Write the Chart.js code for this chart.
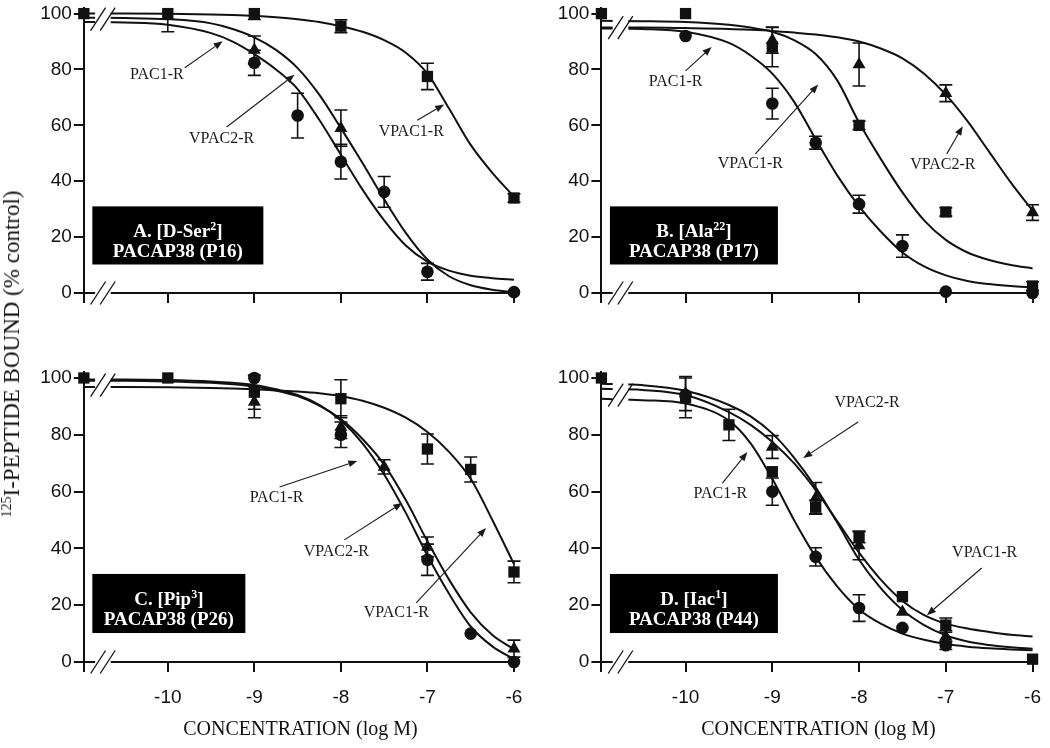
<!DOCTYPE html>
<html><head><meta charset="utf-8">
<script src="https://cdn.jsdelivr.net/npm/chart.js@4.4.0/dist/chart.umd.min.js"></script>
<style>
html,body{margin:0;padding:0;background:#fff;}
#wrap{position:relative;width:1050px;height:748px;overflow:hidden;background:#fff;}
canvas{position:absolute;}
#ytitle{position:absolute;left:12px;top:354px;transform:translate(-50%,-50%) rotate(-90deg);white-space:nowrap;font-family:'Liberation Serif','Times New Roman',serif;font-size:23px;color:#111;}
#ytitle sup{font-size:14px;vertical-align:8px;line-height:0;}
</style></head><body>
<div id="wrap">
<canvas id="cA" width="525" height="320" style="left:0;top:0"></canvas>
<canvas id="cB" width="530" height="320" style="left:520px;top:0"></canvas>
<canvas id="cC" width="525" height="393" style="left:0;top:355px"></canvas>
<canvas id="cD" width="530" height="393" style="left:520px;top:355px"></canvas>
<div id="ytitle"><sup>125</sup>I-PEPTIDE BOUND (% control)</div>
</div>
<script>
// ---------- axes ----------
const xTicks = [-10, -9, -8, -7, -6];
const yTicks = [0, 20, 40, 60, 80, 100];
const xMin = -10.97, xMax = -5.965, yMin = 0, yMax = 102;
const breakFrom = -10.84, breakTo = -10.66;

// x positions of the fitted curves (log M)
const curveX = [-10.97, -10.5, -10, -9.5, -9.25, -9, -8.75, -8.5, -8.25, -8, -7.75, -7.5, -7.25, -7, -6.75, -6.5, -6.25, -6];

// ---------- Panel A: [D-Ser2] PACAP38 (P16) ----------
const aVPAC1x = [-10.97, -10, -9, -8, -7, -6];
const aVPAC1y = [100, 100, 100, 95.5, 77.5, 34];
const aVPAC1e = [0, 6.5, 2.1, 2.3, 4.7, 1.5];
const aVPAC2x = [-9, -8];
const aVPAC2y = [87, 59];
const aVPAC2e = [5, 6.5];
const aPAC1x = [-9, -8.5, -8, -7.5, -7, -6];
const aPAC1y = [82.4, 63.5, 47, 36.2, 7.6, 0.3];
const aPAC1e = [4.5, 8, 6.2, 5.5, 3, 0];
const aFitPAC1  = [97, 96.8, 96, 93, 90, 85.5, 80, 73, 62, 49.5, 37, 26, 17, 11.2, 8, 6.2, 5.3, 4.7];
const aFitVPAC2 = [98.5, 98.4, 98, 96.5, 94.5, 91.5, 87, 80.5, 71, 59, 46.5, 33.5, 21.5, 12, 6, 2.8, 1.2, 0.3];
const aFitVPAC1 = [100, 100, 99.9, 99.7, 99.5, 99.2, 98.7, 98, 97, 95.5, 93.5, 90.5, 86, 78.5, 66, 53, 43, 34.5];

// ---------- Panel B: [Ala22] PACAP38 (P17) ----------
const bVPAC1x = [-10.97, -10, -9, -8, -7, -6];
const bVPAC1y = [100, 100, 88, 60, 29, 2.5];
const bVPAC1e = [0, 0, 7, 1.5, 1.5, 1.5];
const bVPAC2x = [-9, -8, -7, -6];
const bVPAC2y = [90.5, 81.8, 71.5, 28.8];
const bVPAC2e = [4.7, 7.7, 3, 2.8];
const bPAC1x = [-10, -9, -8.5, -8, -7.5, -7, -6];
const bPAC1y = [92, 67.8, 53.8, 31.8, 16.8, 0.5, 0];
const bPAC1e = [0, 5.5, 2.3, 3.2, 4, 0, 0];
const bFitPAC1  = [94.7, 94.5, 93.5, 89.5, 85, 78.5, 68.5, 55, 42, 31, 22, 14.5, 9.5, 6.3, 4.3, 3.2, 2.5, 2];
const bFitVPAC1 = [97.4, 97.3, 97, 96, 95, 93.5, 90.5, 85.5, 76, 61, 48, 36, 26, 19, 14.5, 11.8, 10, 8.8];
const bFitVPAC2 = [95, 95, 94.8, 94.5, 94.2, 93.8, 93.2, 92.5, 91.5, 90, 87.5, 84, 78.5, 71, 61.5, 50.5, 39.5, 29.5];

// ---------- Panel C: [Pip3] PACAP38 (P26) ----------
const cVPAC1x = [-10.97, -10, -9, -8, -7, -6.5, -6];
const cVPAC1y = [100, 100, 95, 92.7, 75, 67.8, 31.7];
const cVPAC1e = [0, 0, 6, 6.7, 5.3, 4.4, 3.8];
const cVPAC2x = [-9, -8, -7.5, -7, -6];
const cVPAC2y = [91.5, 82.7, 68.7, 40.5, 4.7];
const cVPAC2e = [5.5, 4, 2.5, 3.5, 3];
const cPAC1x = [-9, -8, -7, -6.5, -6];
const cPAC1y = [100, 80, 36, 10, 0];
const cPAC1e = [0, 4.5, 5.5, 0, 0];
const cFitPAC1  = [99.5, 99.5, 99.3, 98.8, 98.3, 97.5, 96, 94, 90.5, 85, 77, 66, 52.5, 37.5, 24, 12.5, 5.5, 1];
const cFitVPAC2 = [99, 99, 98.8, 98.3, 97.8, 97, 95.6, 93.6, 90.3, 85.5, 78.5, 69.5, 57, 42.5, 29, 17.5, 9.5, 4.5];
const cFitVPAC1 = [96.8, 96.8, 96.7, 96.5, 96.3, 96, 95.6, 95.2, 94.6, 93.6, 92, 89.5, 86, 81, 74, 64.5, 50, 34.5];

// ---------- Panel D: [Iac1] PACAP38 (P44) ----------
const dVPAC1x = [-10.97, -10, -9.5, -9, -8.5, -8, -7.5, -7, -6];
const dVPAC1y = [100, 93, 83.5, 67, 54.5, 44, 23, 13, 1];
const dVPAC1e = [0, 7, 5.5, 0, 2.5, 2, 0, 2.5, 0];
const dVPAC2x = [-10, -9, -8.5, -8, -7.5, -7];
const dVPAC2y = [94.5, 75.7, 57.7, 41, 17.6, 9];
const dVPAC2e = [6, 4, 5.5, 5, 0, 2];
const dPAC1x = [-10, -9, -8.5, -8, -7.5, -7];
const dPAC1y = [94, 60, 37, 19, 12, 5.9];
const dPAC1e = [0, 4.8, 3.2, 4.7, 0, 1.5];
const dFitPAC1  = [92.7, 92.2, 91, 85, 77, 64.5, 50, 37, 26.5, 18.5, 13.5, 10, 7.8, 6.3, 5.4, 4.8, 4.4, 4.1];
const dFitVPAC2 = [98, 97.5, 95.5, 90.5, 86.5, 80.5, 72, 61.5, 49, 36, 26, 18.3, 13, 9.4, 7.2, 6, 5.2, 4.7];
const dFitVPAC1 = [96.2, 95.8, 94, 88, 83.5, 77.5, 70, 60.5, 49.5, 38.5, 29, 21.5, 16.5, 13.5, 11.8, 10.6, 9.6, 9];

// ---------- styling / layout ----------
const INK = '#111';
const SERIF = "'Liberation Serif','Times New Roman',serif";
const SANS = "'Liberation Sans',Arial,sans-serif";

function pts(xs, ys) { return xs.map((x, i) => ({x: x, y: ys[i]})); }

function markerSet(xs, ys, errs, style, r) {
  return {type: 'scatter', data: pts(xs, ys), err: errs, pointStyle: style, pointRadius: r, pointHoverRadius: r,
    backgroundColor: INK, borderColor: INK, borderWidth: 0, clip: false};
}
function curveSet(ys) {
  return {type: 'line', data: pts(curveX, ys), borderColor: INK, borderWidth: 2, pointRadius: 0,
    pointHoverRadius: 0, cubicInterpolationMode: 'monotone', fill: false};
}

function decorPlugin(cfg) {
  return {
    id: 'decor',
    afterDatasetsDraw(chart) {
      const ctx = chart.ctx, xs = chart.scales.x, ys = chart.scales.y, ca = chart.chartArea;
      ctx.save();
      // error bars
      ctx.strokeStyle = INK; ctx.lineWidth = 1.6;
      chart.data.datasets.forEach((ds, di) => {
        if (!ds.err) return;
        const meta = chart.getDatasetMeta(di);
        ds.err.forEach((e, j) => {
          if (!e) return;
          const px = meta.data[j].x, v = ds.data[j].y;
          let yt = ys.getPixelForValue(v + e);
          const yb = ys.getPixelForValue(v - e);
          const topCap = yt >= ca.top;
          if (!topCap) yt = ca.top;
          ctx.beginPath();
          ctx.moveTo(px, yt); ctx.lineTo(px, yb);
          if (topCap) { ctx.moveTo(px - 6.5, yt); ctx.lineTo(px + 6.5, yt); }
          ctx.moveTo(px - 6.5, yb); ctx.lineTo(px + 6.5, yb);
          ctx.stroke();
        });
      });
      // axis break
      const bx1 = xs.getPixelForValue(breakFrom), bx2 = xs.getPixelForValue(breakTo);
      ctx.fillStyle = '#fff';
      ctx.fillRect(bx1, ca.top - 2, bx2 - bx1, ca.bottom - ca.top + 4);
      ctx.strokeStyle = INK; ctx.lineWidth = 1.3;
      const slashes = (cy) => {
        [bx1 + 3, bx2 - 3].forEach(cx => {
          ctx.beginPath(); ctx.moveTo(cx - 7.5, cy + 11.5); ctx.lineTo(cx + 7.5, cy - 11.5); ctx.stroke();
        });
      };
      slashes(ys.getPixelForValue(cfg.breakY));
      slashes(ca.bottom);
      // label box
      const bl = ca.left + 8.5, bt = ys.getPixelForValue(31), bb = ys.getPixelForValue(10.2);
      ctx.fillStyle = '#000';
      ctx.fillRect(bl, bt, cfg.boxW, bb - bt);
      ctx.fillStyle = '#fff';
      ctx.textBaseline = 'alphabetic';
      const cx = bl + cfg.boxW / 2;
      const big = 'bold 19px ' + SERIF, small = 'bold 12px ' + SERIF;
      ctx.font = big; const w1 = ctx.measureText(cfg.l1[0]).width, w3 = ctx.measureText(cfg.l1[2]).width;
      ctx.font = small; const w2 = ctx.measureText(cfg.l1[1]).width;
      let sx = cx - (w1 + w2 + w3) / 2;
      ctx.textAlign = 'left';
      ctx.font = big; ctx.fillText(cfg.l1[0], sx, bt + 31);
      ctx.font = small; ctx.fillText(cfg.l1[1], sx + w1, bt + 24);
      ctx.font = big; ctx.fillText(cfg.l1[2], sx + w1 + w2, bt + 31);
      ctx.textAlign = 'center';
      ctx.fillText(cfg.l2, cx, bt + 51);
      // receptor notes with arrows
      ctx.font = '16px ' + SERIF; ctx.fillStyle = '#1a1a1a'; ctx.strokeStyle = '#1a1a1a';
      ctx.textBaseline = 'middle'; ctx.lineWidth = 1.1;
      cfg.notes.forEach(n => {
        ctx.fillText(n.t, xs.getPixelForValue(n.x), ys.getPixelForValue(n.y));
        const x1 = xs.getPixelForValue(n.from[0]), y1 = ys.getPixelForValue(n.from[1]);
        const x2 = xs.getPixelForValue(n.to[0]), y2 = ys.getPixelForValue(n.to[1]);
        const ang = Math.atan2(y2 - y1, x2 - x1);
        const L = 9, W = 3.5;
        const bxp = x2 - L * Math.cos(ang), byp = y2 - L * Math.sin(ang);
        ctx.beginPath(); ctx.moveTo(x1, y1); ctx.lineTo(bxp, byp); ctx.stroke();
        ctx.beginPath(); ctx.moveTo(x2, y2);
        ctx.lineTo(bxp + W * Math.sin(ang), byp - W * Math.cos(ang));
        ctx.lineTo(bxp - W * Math.sin(ang), byp + W * Math.cos(ang));
        ctx.closePath(); ctx.fill();
      });
      ctx.restore();
    }
  };
}

function makePanel(id, cfg) {
  const datasets = [
    markerSet(cfg.s1x, cfg.s1y, cfg.s1e, 'rect', 8),
    markerSet(cfg.s2x, cfg.s2y, cfg.s2e, 'triangle', 7.5),
    markerSet(cfg.s3x, cfg.s3y, cfg.s3e, 'circle', 6.3),
    curveSet(cfg.f1), curveSet(cfg.f2), curveSet(cfg.f3)
  ];
  new Chart(document.getElementById(id), {
    type: 'scatter',
    data: {datasets: datasets},
    plugins: [decorPlugin(cfg)],
    options: {
      responsive: false, animation: false, devicePixelRatio: 1,
      layout: {padding: {top: cfg.padTop, right: cfg.padRight, left: 0, bottom: 0}},
      plugins: {legend: {display: false}, tooltip: {enabled: false}},
      events: [],
      scales: {
        x: {
          type: 'linear', min: xMin, max: xMax,
          afterBuildTicks: s => { s.ticks = [xMin].concat(xTicks).map(v => ({value: v})); },
          afterFit: s => { s.height = cfg.xH; s.paddingLeft = 0; s.paddingRight = 0; },
          ticks: {display: cfg.bottom, autoSkip: false, maxRotation: 0, padding: 14, color: INK,
            font: {family: SANS, size: 19},
            callback: v => (xTicks.indexOf(v) >= 0 ? String(v) : '')},
          grid: {display: true, drawOnChartArea: false, drawTicks: true, tickLength: 10, color: INK, lineWidth: 2},
          border: {display: true, color: INK, width: 2},
          title: {display: cfg.bottom, text: 'CONCENTRATION (log M)', color: INK,
            font: {family: SERIF, size: 20}, padding: {top: 0, bottom: 6}}
        },
        y: {
          type: 'linear', min: yMin, max: yMax,
          afterBuildTicks: s => { s.ticks = yTicks.map(v => ({value: v})); },
          afterFit: s => { s.width = cfg.yW; s.paddingTop = 0; s.paddingBottom = 0; },
          ticks: {padding: 2, color: INK, font: {family: SANS, size: 19}},
          grid: {display: true, drawOnChartArea: false, drawTicks: true, tickLength: 10, color: INK, lineWidth: 2},
          border: {display: true, color: INK, width: 2}
        }
      }
    }
  });
}

makePanel('cA', {
  s1x: aVPAC1x, s1y: aVPAC1y, s1e: aVPAC1e, s2x: aVPAC2x, s2y: aVPAC2y, s2e: aVPAC2e,
  s3x: aPAC1x, s3y: aPAC1y, s3e: aPAC1e, f1: aFitPAC1, f2: aFitVPAC2, f3: aFitVPAC1,
  bottom: false, yW: 83.85, xH: 27, padTop: 4.3, padRight: 7, breakY: 98, boxW: 171,
  l1: ['A. [D-Ser', '2', ']'], l2: 'PACAP38 (P16)',
  notes: [
    {t: 'PAC1-R', x: -10.127, y: 78.1, from: [-9.804, 80.6], to: [-9.366, 90.1]},
    {t: 'VPAC2-R', x: -9.378, y: 55.1, from: [-9.32, 59.4], to: [-8.536, 78.1]},
    {t: 'VPAC1-R', x: -7.187, y: 57.6, from: [-7.118, 61.8], to: [-6.807, 67.5]}
  ]
});
makePanel('cB', {
  s1x: bVPAC1x, s1y: bVPAC1y, s1e: bVPAC1e, s2x: bVPAC2x, s2y: bVPAC2y, s2e: bVPAC2e,
  s3x: bPAC1x, s3y: bPAC1y, s3e: bPAC1e, f1: bFitPAC1, f2: bFitVPAC1, f3: bFitVPAC2,
  bottom: false, yW: 81.4, xH: 27, padTop: 4.3, padRight: 14.4, breakY: 95, boxW: 168,
  l1: ['B. [Ala', '22', ']'], l2: 'PACAP38 (P17)',
  notes: [
    {t: 'PAC1-R', x: -10.115, y: 75.6, from: [-10.0, 79.5], to: [-9.70, 88.0]},
    {t: 'VPAC1-R', x: -9.253, y: 46.3, from: [-9.195, 49.8], to: [-8.471, 74.6]},
    {t: 'VPAC2-R', x: -7.034, y: 45.9, from: [-6.989, 49.8], to: [-6.805, 59.7]}
  ]
});
makePanel('cC', {
  s1x: cVPAC1x, s1y: cVPAC1y, s1e: cVPAC1e, s2x: cVPAC2x, s2y: cVPAC2y, s2e: cVPAC2e,
  s3x: cPAC1x, s3y: cPAC1y, s3e: cPAC1e, f1: cFitPAC1, f2: cFitVPAC2, f3: cFitVPAC1,
  bottom: true, yW: 83.85, xH: 86, padTop: 17.3, padRight: 7, breakY: 97.5, boxW: 153,
  l1: ['C. [Pip', '3', ']'], l2: 'PACAP38 (P26)',
  notes: [
    {t: 'PAC1-R', x: -8.744, y: 57.7, from: [-8.709, 61.6], to: [-7.810, 70.8]},
    {t: 'VPAC2-R', x: -8.052, y: 38.7, from: [-7.960, 43.0], to: [-7.291, 56.0]},
    {t: 'VPAC1-R', x: -7.360, y: 17.3, from: [-7.130, 20.8], to: [-6.323, 47.2]}
  ]
});
makePanel('cD', {
  s1x: dVPAC1x, s1y: dVPAC1y, s1e: dVPAC1e, s2x: dVPAC2x, s2y: dVPAC2y, s2e: dVPAC2e,
  s3x: dPAC1x, s3y: dPAC1y, s3e: dPAC1e, f1: dFitPAC1, f2: dFitVPAC2, f3: dFitVPAC1,
  bottom: true, yW: 81.4, xH: 86, padTop: 17.3, padRight: 14.4, breakY: 94, boxW: 168,
  l1: ['D. [Iac', '1', ']'], l2: 'PACAP38 (P44)',
  notes: [
    {t: 'VPAC2-R', x: -7.908, y: 91.2, from: [-8.011, 84.5], to: [-8.644, 71.8]},
    {t: 'PAC1-R', x: -9.598, y: 59.2, from: [-9.575, 63.0], to: [-9.287, 73.9]},
    {t: 'VPAC1-R', x: -6.552, y: 38.4, from: [-6.586, 33.1], to: [-7.218, 16.5]}
  ]
});
</script>
</body></html>
